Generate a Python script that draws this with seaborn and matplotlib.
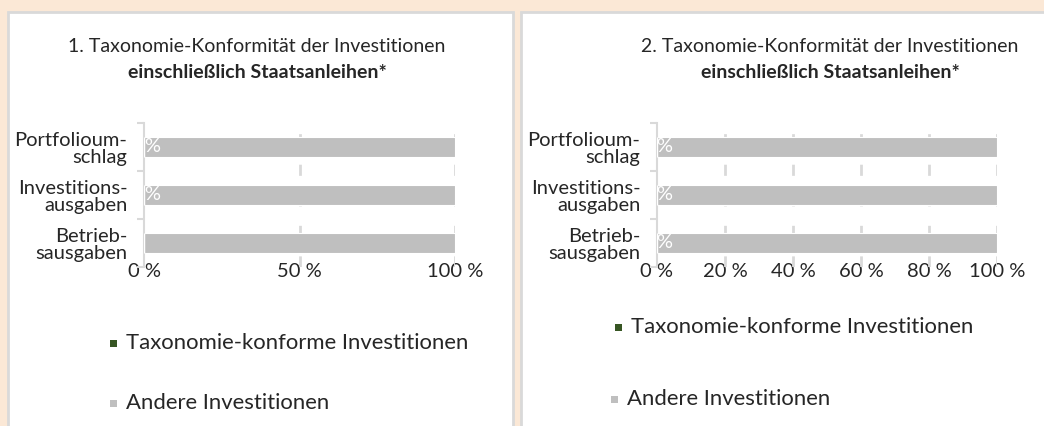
import numpy as np
import pandas as pd
import matplotlib
matplotlib.use('Agg')
import matplotlib.pyplot as plt
import seaborn as sns
from matplotlib.patches import Rectangle

sns.set_theme(style='white')
plt.rcParams['font.family'] = ['Lato', 'DejaVu Sans']

# Daten
kategorien = ['Portfolioum-\nschlag', 'Investitions-\nausgaben', 'Betrieb-\nsausgaben']
konform_1 = [0, 0, 0]
andere_1 = [100, 100, 100]
konform_2 = [0, 0, 0]
andere_2 = [100, 100, 100]
labels_1 = ['0 %', '0 %', '']
labels_2 = ['0 %', '0 %', '0 %']
ticks_1 = [0, 50, 100]
ticks_2 = [0, 20, 40, 60, 80, 100]
titel_1 = '1. Taxonomie-Konformität der Investitionen'
titel_2 = '2. Taxonomie-Konformität der Investitionen'
titel_fett = 'einschließlich Staatsanleihen*'
legende = ['Taxonomie-konforme Investitionen', 'Andere Investitionen']

GRUEN = '#375623'
GRAU = '#bfbfbf'
BEIGE = '#fbe8d6'
RAND = '#d9d9d9'
TEXT = '#262626'

W, H = 1044, 426
fig = plt.figure(figsize=(W / 100, H / 100), dpi=100, facecolor=BEIGE)


def px(x0, y0, x1, y1):
    # Pixelbox -> Figurkoordinaten
    return [x0 / W, 1 - y1 / H, (x1 - x0) / W, (y1 - y0) / H]


# weiße Panels mit grauem Rand
for x0, x1 in [(8, 513), (521, 1050)]:
    fig.patches.append(Rectangle((x0 / W, 0 - 0.01), (x1 - x0) / W, 1 - 12 / H + 0.01,
                                 transform=fig.transFigure, facecolor='white',
                                 edgecolor=RAND, linewidth=2, zorder=-5))


def zeichne(ax, konform, andere, labels, ticks):
    df = pd.DataFrame({'kat': kategorien, 'konform': konform, 'andere': andere})
    sns.barplot(data=df, y='kat', x='andere', left=df['konform'], color=GRAU,
                width=0.42, edgecolor='white', linewidth=0.8, ax=ax, zorder=2)
    b = sns.barplot(data=df, y='kat', x='konform', color=GRUEN, width=0.42, ax=ax, zorder=3)
    ax.bar_label(b.containers[-1], labels=labels, label_type='center',
                 color='white', fontsize=14.5)
    ax.set_xlim(0, 100)
    ax.set_ylim(2.5, -0.5)
    ax.set_xticks(ticks)
    ax.set_xticklabels([f'{t} %' for t in ticks], fontsize=14.5, color=TEXT)
    ax.set_yticks([-0.5, 0.5, 1.5, 2.5], minor=False)
    ax.set_yticklabels([])
    ax.set_yticks([0, 1, 2], minor=True)
    ax.set_yticklabels(kategorien, minor=True, fontsize=14.5, color=TEXT,
                       linespacing=1.0)
    ax.tick_params(axis='y', which='major', length=5, width=1.5, color=RAND, left=True)
    ax.tick_params(axis='y', which='minor', length=0, pad=12)
    ax.tick_params(axis='x', length=0, pad=-3)
    ax.set_xlabel('')
    ax.set_ylabel('')
    for t in ticks[1:]:
        ax.axvline(t, color=RAND, lw=2, ls=(0, (4, 7)), zorder=1)
    for s in ['top', 'right', 'bottom']:
        ax.spines[s].set_visible(False)
    ax.spines['left'].set_color(RAND)
    ax.spines['left'].set_linewidth(1.5)
    ax.set_facecolor('none')


ax1 = fig.add_axes(px(144, 123, 455, 267))
zeichne(ax1, konform_1, andere_1, labels_1, ticks_1)
ax2 = fig.add_axes(px(657, 123, 997, 267))
zeichne(ax2, konform_2, andere_2, labels_2, ticks_2)

# Titel
for xc, t in [(257, titel_1), (830, titel_2)]:
    fig.text(xc / W, 1 - 47 / H, t, ha='center', va='center', fontsize=14, color=TEXT)
    fig.text(xc / W, 1 - 72 / H, titel_fett, ha='center', va='center', fontsize=14,
             color=TEXT, fontweight='bold')

# Legenden
for (mx1, mx2, y1, y2) in [(113, 113, 343, 403), (618, 614, 327, 399)]:
    for mx, y, farbe, txt in [(mx1, y1, GRUEN, legende[0]), (mx2, y2, GRAU, legende[1])]:
        fig.patches.append(Rectangle(((mx - 3.5) / W, 1 - (y + 3.5) / H), 7 / W, 7 / H,
                                     transform=fig.transFigure, facecolor=farbe,
                                     edgecolor='none', zorder=3))
        fig.text((mx + 13) / W, 1 - y / H, txt, ha='left', va='center',
                 fontsize=15.9, color=TEXT)

fig.savefig('out.png', dpi=100, facecolor=BEIGE)
